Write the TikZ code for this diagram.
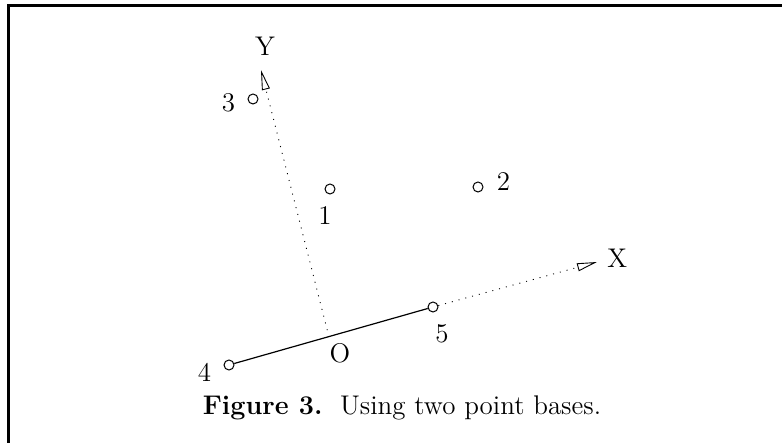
\documentclass[tikz,border=0pt]{standalone}
\usepackage{tikz}
\usetikzlibrary{arrows.meta,positioning}

\begin{document}
\begin{tikzpicture}[
    x=0.5pt, y=-0.5pt,
    node distance=6pt,
    pt/.style={circle, draw, minimum size=5pt, inner sep=0pt, line width=0.5pt},
    lbl/.style={inner sep=0pt, font=\fontsize{13.5}{15}\selectfont},
    axis/.style={line width=0.45pt, dash pattern=on 0.5pt off 3pt,
        -{Triangle[open, length=10pt, width=4pt, sep=0pt]}},
    frame/.style={line width=1.5pt}
]
    \useasboundingbox (0,0) rectangle (782,443);
    \draw[frame] (8.5,443) -- (8.5,5.5) -- (782,5.5);

    % the five points and the basis
    \node[pt] (p1) at (330,189) {};
    \node[pt] (p2) at (478,187) {};
    \node[pt] (p3) at (253,99) {};
    \node[pt] (p4) at (229,365) {};
    \node[pt] (p5) at (433,307) {};
    \coordinate (o) at (329,337);
    \coordinate (ytip) at (261,70);
    \coordinate (xtip) at (597,262);

    \draw[line width=0.6pt] (p4) -- (p5);
    \draw[axis] (o) -- (ytip);
    \draw[axis] (p5) -- (xtip);

    \node[lbl, below=6pt of p1, xshift=-2.5pt] (l1) {1};
    \node[lbl, right=6.5pt of p2, yshift=2.5pt] (l2) {2};
    \node[lbl, left=6pt of p3, yshift=-2pt] (l3) {3};
    \node[lbl, left=6pt of p4, yshift=-3.5pt] (l4) {4};
    \node[lbl, below=6pt of p5, xshift=4.5pt] (l5) {5};
    \node[lbl, below=2.8pt of o, xshift=5.5pt] (lo) {O};
    \node[lbl, above=6.9pt of ytip, xshift=2pt] (ly) {Y};
    \node[lbl, right=5pt of xtip, yshift=2pt] (lx) {X};

    \node[anchor=base, inner sep=0pt, font=\fontsize{13.5}{16}\selectfont] (cap) at (402,415)
        {\textbf{Figure 3.}\ \ Using two point bases.};
\end{tikzpicture}
\end{document}
